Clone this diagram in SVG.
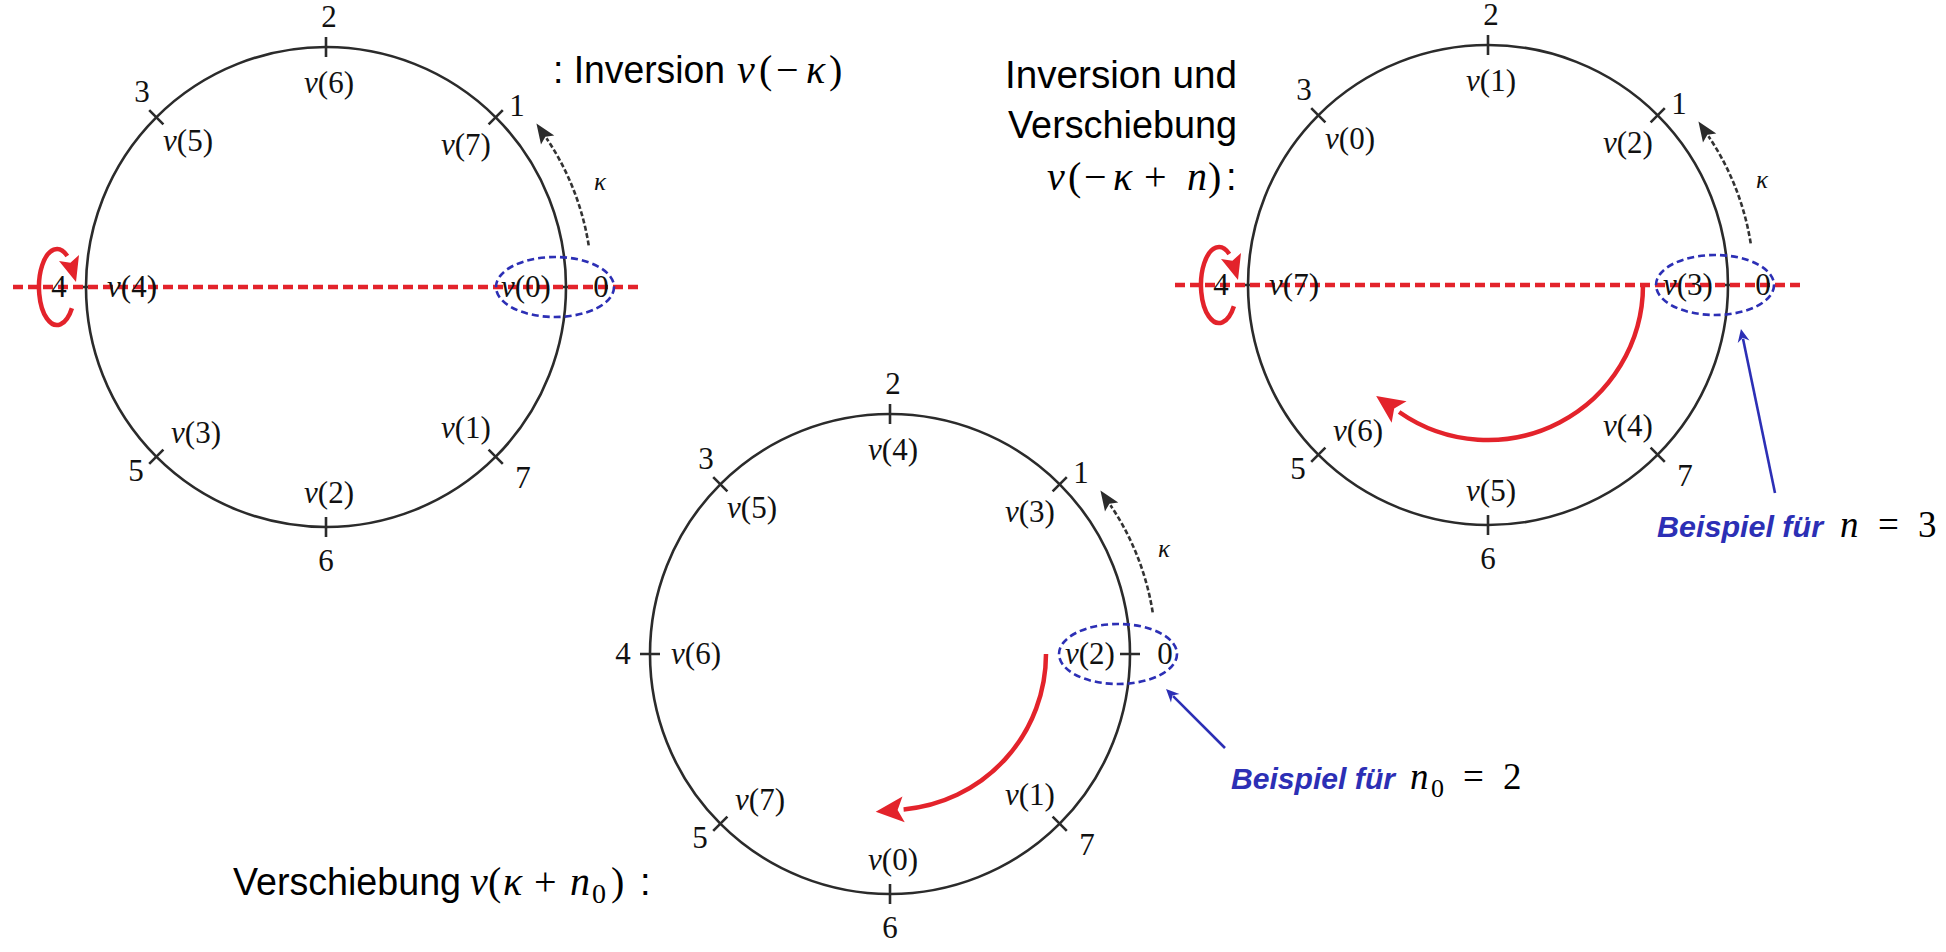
<svg xmlns="http://www.w3.org/2000/svg" width="1946" height="952" viewBox="0 0 1946 952">
<defs>
<style>
.ring{fill:none;stroke:#2b2b2b;stroke-width:2.6}
.tick{fill:none;stroke:#2b2b2b;stroke-width:2.6}
.lbl{font-family:"Liberation Serif",serif;font-size:31px;fill:#111;text-anchor:middle}
.it{font-style:italic}
.kap{font-family:"Liberation Serif",serif;font-size:25px;font-style:italic;fill:#111;text-anchor:middle}
.kar{fill:none;stroke:#333;stroke-width:2.6;stroke-dasharray:5 2.5}
.sel{fill:none;stroke:#2c2fb5;stroke-width:2.6;stroke-dasharray:7 4}
.axis{stroke:#e3232b;stroke-width:4.5;stroke-dasharray:10 5}
.rarc{fill:none;stroke:#e3232b;stroke-width:4.5}
.rhead{fill:#e3232b}
.head{font-family:"Liberation Sans",sans-serif;font-size:38px;fill:#000}
.math{font-family:"Liberation Serif",serif;font-size:40px;fill:#000}
.bsp{font-family:"Liberation Sans",sans-serif;font-size:30px;font-weight:bold;font-style:italic;fill:#2c2fb5}
.bmath{font-family:"Liberation Serif",serif;font-size:37px;fill:#000}
.blue{stroke:#2c2fb5;stroke-width:2.6;fill:none}
</style>
<marker id="mk" markerUnits="userSpaceOnUse" orient="auto" refX="0" refY="0" markerWidth="40" markerHeight="40" style="overflow:visible"><path d="M18 0 L-2 -8 L2 0 L-2 8 Z" fill="#2b2b2b"/></marker>
<marker id="mr" markerUnits="userSpaceOnUse" orient="auto" refX="0" refY="0" markerWidth="40" markerHeight="40" style="overflow:visible"><path d="M28 0 L0 -13 L6 0 L0 13 Z" fill="#e3232b"/></marker>
<marker id="mb" markerUnits="userSpaceOnUse" orient="auto" refX="0" refY="0" markerWidth="30" markerHeight="30" style="overflow:visible"><path d="M10 0 L-3 -6 L1 0 L-3 6 Z" fill="#2c2fb5"/></marker>
</defs>
<rect width="1946" height="952" fill="#fff"/>

<!-- Circle 1: Inversion -->
<g id="wheel-inversion" transform="translate(326 287)">
 <circle class="ring" r="240"/>
 <path class="tick" d="M230 0H250M162.6 162.6L176.8 176.8M0 230V250M-162.6 162.6L-176.8 176.8M-230 0H-250M-162.6 -162.6L-176.8 -176.8M0 -230V-250M162.6 -162.6L176.8 -176.8"/>
 <line class="axis" x1="-313" y1="0" x2="316" y2="0"/>
 <text class="lbl" x="275" y="10">0</text>
 <text class="lbl" x="191" y="-171">1</text>
 <text class="lbl" x="3" y="-260">2</text>
 <text class="lbl" x="-184" y="-185">3</text>
 <text class="lbl" x="-267" y="10">4</text>
 <text class="lbl" x="-190" y="194">5</text>
 <text class="lbl" x="0" y="284">6</text>
 <text class="lbl" x="197" y="201">7</text>
 <text class="lbl" x="200" y="10"><tspan class="it">v</tspan>(0)</text>
 <text class="lbl" x="140" y="-132"><tspan class="it">v</tspan>(7)</text>
 <text class="lbl" x="3" y="-194"><tspan class="it">v</tspan>(6)</text>
 <text class="lbl" x="-138" y="-136"><tspan class="it">v</tspan>(5)</text>
 <text class="lbl" x="-194" y="10"><tspan class="it">v</tspan>(4)</text>
 <text class="lbl" x="-130" y="156"><tspan class="it">v</tspan>(3)</text>
 <text class="lbl" x="3" y="216"><tspan class="it">v</tspan>(2)</text>
 <text class="lbl" x="140" y="151"><tspan class="it">v</tspan>(1)</text>
 <ellipse class="sel" cx="229" cy="0" rx="59" ry="30"/>
 <path class="kar" d="M262.7 -41.6A266 266 0 0 0 220.5 -148.7" marker-end="url(#mk)"/>
 <text class="kap" x="274" y="-97">κ</text>
 <path class="rarc" d="M-254.1 21.2A18 38 0 1 1 -258.7 -31.1"/>
 <polygon class="rhead" points="-250,-5 -267,-26 -255.6,-24.2 -247,-32"/>
</g>

<!-- Circle 2: Verschiebung -->
<g id="wheel-shift" transform="translate(890 654)">
 <circle class="ring" r="240"/>
 <path class="tick" d="M230 0H250M162.6 162.6L176.8 176.8M0 230V250M-162.6 162.6L-176.8 176.8M-230 0H-250M-162.6 -162.6L-176.8 -176.8M0 -230V-250M162.6 -162.6L176.8 -176.8"/>
 <text class="lbl" x="275" y="10">0</text>
 <text class="lbl" x="191" y="-171">1</text>
 <text class="lbl" x="3" y="-260">2</text>
 <text class="lbl" x="-184" y="-185">3</text>
 <text class="lbl" x="-267" y="10">4</text>
 <text class="lbl" x="-190" y="194">5</text>
 <text class="lbl" x="0" y="284">6</text>
 <text class="lbl" x="197" y="201">7</text>
 <text class="lbl" x="200" y="10"><tspan class="it">v</tspan>(2)</text>
 <text class="lbl" x="140" y="-132"><tspan class="it">v</tspan>(3)</text>
 <text class="lbl" x="3" y="-194"><tspan class="it">v</tspan>(4)</text>
 <text class="lbl" x="-138" y="-136"><tspan class="it">v</tspan>(5)</text>
 <text class="lbl" x="-194" y="10"><tspan class="it">v</tspan>(6)</text>
 <text class="lbl" x="-130" y="156"><tspan class="it">v</tspan>(7)</text>
 <text class="lbl" x="3" y="216"><tspan class="it">v</tspan>(0)</text>
 <text class="lbl" x="140" y="151"><tspan class="it">v</tspan>(1)</text>
 <ellipse class="sel" cx="228" cy="0" rx="59" ry="30"/>
 <path class="kar" d="M262.7 -41.6A266 266 0 0 0 220.5 -148.7" marker-end="url(#mk)"/>
 <text class="kap" x="274" y="-97">κ</text>
 <path class="rarc" d="M156 0A156 156 0 0 1 13.6 155.4" marker-end="url(#mr)"/>
</g>

<!-- Circle 3: Inversion und Verschiebung -->
<g id="wheel-inversion-shift" transform="translate(1488 285)">
 <circle class="ring" r="240"/>
 <path class="tick" d="M230 0H250M162.6 162.6L176.8 176.8M0 230V250M-162.6 162.6L-176.8 176.8M-230 0H-250M-162.6 -162.6L-176.8 -176.8M0 -230V-250M162.6 -162.6L176.8 -176.8"/>
 <line class="axis" x1="-313" y1="0" x2="314" y2="0"/>
 <text class="lbl" x="275" y="10">0</text>
 <text class="lbl" x="191" y="-171">1</text>
 <text class="lbl" x="3" y="-260">2</text>
 <text class="lbl" x="-184" y="-185">3</text>
 <text class="lbl" x="-267" y="10">4</text>
 <text class="lbl" x="-190" y="194">5</text>
 <text class="lbl" x="0" y="284">6</text>
 <text class="lbl" x="197" y="201">7</text>
 <text class="lbl" x="200" y="10"><tspan class="it">v</tspan>(3)</text>
 <text class="lbl" x="140" y="-132"><tspan class="it">v</tspan>(2)</text>
 <text class="lbl" x="3" y="-194"><tspan class="it">v</tspan>(1)</text>
 <text class="lbl" x="-138" y="-136"><tspan class="it">v</tspan>(0)</text>
 <text class="lbl" x="-194" y="10"><tspan class="it">v</tspan>(7)</text>
 <text class="lbl" x="-130" y="156"><tspan class="it">v</tspan>(6)</text>
 <text class="lbl" x="3" y="216"><tspan class="it">v</tspan>(5)</text>
 <text class="lbl" x="140" y="151"><tspan class="it">v</tspan>(4)</text>
 <ellipse class="sel" cx="227" cy="0" rx="59" ry="30"/>
 <path class="kar" d="M262.7 -41.6A266 266 0 0 0 220.5 -148.7" marker-end="url(#mk)"/>
 <text class="kap" x="274" y="-97">κ</text>
 <path class="rarc" d="M-254.1 21.2A18 38 0 1 1 -258.7 -31.1"/>
 <polygon class="rhead" points="-250,-5 -267,-26 -255.6,-24.2 -247,-32"/>
 <path class="rarc" d="M155 0A155 155 0 0 1 -88.9 127" marker-end="url(#mr)"/>
</g>

<!-- Captions -->
<g id="caption-inversion">
 <text class="head" x="553" y="83" textLength="172" lengthAdjust="spacingAndGlyphs">: Inversion</text>
 <text class="math"><tspan class="it" x="737" y="83">v</tspan><tspan x="759" y="83">(</tspan><tspan x="776" y="83">−</tspan><tspan class="it" x="806" y="83">κ</tspan><tspan x="829" y="83">)</tspan></text>
</g>
<g id="caption-inversion-shift">
 <text class="head" x="1237" y="88" text-anchor="end" textLength="232" lengthAdjust="spacingAndGlyphs">Inversion und</text>
 <text class="head" x="1237" y="138" text-anchor="end" textLength="229" lengthAdjust="spacingAndGlyphs">Verschiebung</text>
 <text class="math"><tspan class="it" x="1047" y="190">v</tspan><tspan x="1068" y="190">(</tspan><tspan x="1084" y="190">−</tspan><tspan class="it" x="1113" y="190">κ</tspan><tspan x="1144" y="190">+</tspan><tspan class="it" x="1187" y="190">n</tspan><tspan x="1208" y="190">)</tspan></text>
 <text class="head" x="1226" y="190">:</text>
</g>
<g id="caption-shift">
 <text class="head" x="233" y="895" textLength="228" lengthAdjust="spacingAndGlyphs">Verschiebung</text>
 <text class="math"><tspan class="it" x="470" y="895">v</tspan><tspan x="488" y="895">(</tspan><tspan class="it" x="503" y="895">κ</tspan><tspan x="534" y="895">+</tspan><tspan class="it" x="570" y="895">n</tspan><tspan x="592" y="903" font-size="28">0</tspan><tspan x="611" y="895">)</tspan></text>
 <text class="head" x="640" y="895">:</text>
</g>
<g id="example-n0">
 <text class="bsp" x="1231" y="789" textLength="164" lengthAdjust="spacingAndGlyphs">Beispiel für</text>
 <text class="bmath"><tspan class="it" x="1410" y="789">n</tspan><tspan x="1431" y="797" font-size="26">0</tspan><tspan x="1463" y="789">=</tspan><tspan x="1503" y="789">2</tspan></text>
</g>
<g id="example-n">
 <text class="bsp" x="1657" y="537" textLength="166" lengthAdjust="spacingAndGlyphs">Beispiel für</text>
 <text class="bmath"><tspan class="it" x="1840" y="537">n</tspan><tspan x="1878" y="537">=</tspan><tspan x="1918" y="537">3</tspan></text>
</g>

<!-- Connectors -->
<g id="connectors">
 <path class="blue" d="M1775 493L1743 338.8" marker-end="url(#mb)"/>
 <path class="blue" d="M1225 748L1173.1 696.1" marker-end="url(#mb)"/>
</g>
</svg>
